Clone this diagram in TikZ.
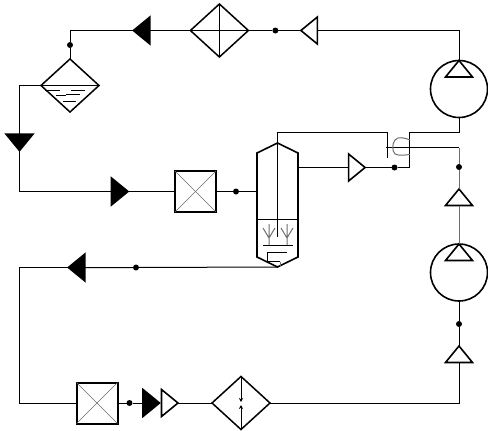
\documentclass[tikz,border=0pt]{standalone}
\usetikzlibrary{arrows.meta, positioning, shapes.geometric, calc}
\definecolor{PipeGray}{RGB}{110, 110, 110}
\tikzset{
  pipe/.style={line width=1pt, color=black},
  thin pipe/.style={line width=1pt, color=PipeGray},
  frame/.style={line width=1.6pt, color=black, line join=miter},
  tri/.style={isosceles triangle, isosceles triangle stretches, draw=black, fill=#1,
              line width=1.6pt, inner sep=0pt, outer sep=0pt,
              minimum width=27pt, minimum height=16.5pt},
  dot/.style={circle, fill=black, inner sep=0pt, outer sep=0pt, minimum size=6pt},
  pumpbox/.style={circle, draw=black, line width=1.6pt, inner sep=0pt, outer sep=0pt,
                  minimum size=57pt},
  xbox/.style={rectangle, draw=black, line width=2pt, inner sep=0pt, outer sep=0pt,
               minimum size=41pt},
  dia/.style={diamond, draw=black, line width=1.5pt, inner sep=0pt, outer sep=0pt,
              minimum width=58pt, minimum height=53pt},
}
\begin{document}
\begin{tikzpicture}[x=1pt, y=-1pt]
      \useasboundingbox (0,0) rectangle (488,431);

      % Top row
      \node[pumpbox] (pumpA) at (459,89) {};
      \node[tri=white, shape border rotate=90, anchor=north] (pumpAtri) at (pumpA.north) {};
      \node[tri=white, shape border rotate=180] (triB) at (311,30.5) {};
      \node[dot, left=22.5pt of triB] (dotA) {};
      \node[dia, left=24pt of dotA] (heater) {};
      \node[tri=black, shape border rotate=180, left=40.5pt of heater] (triC) {};
      \node[dia] (sep) at (70,85.5) {};
      \node[dot, above=11pt of sep] (dotB) {};
      \node[tri=black, shape border rotate=270] (triD) at (19.5,140.5) {};

      % Feed to column
      \node[xbox] (boxA) at (195.5,191.5) {};
      \node[tri=black, shape border rotate=0, left=47pt of boxA] (triE) {};
      \node[dot, right=17pt of boxA] (dotC) {};
      \node[minimum width=41pt, minimum height=104pt, inner sep=0pt, outer sep=0pt] (col) at (277.5,205) {};
      \coordinate[above=10pt of col] (colTop);
      \coordinate[below=10pt of col] (colBot);
      \node[tri=white, shape border rotate=0] (triF) at (355,167.5) {};
      \node[dot] (dotD) at (394.5,167.5) {};

      % Right side
      \node[dot] (dotE) at (459,167) {};
      \node[tri=white, shape border rotate=90, below=19pt of dotE] (triG) {};
      \node[pumpbox] (pumpB) at (459,272.5) {};
      \node[tri=white, shape border rotate=90, anchor=north] (pumpBtri) at (pumpB.north) {};
      \node[dot, below=20pt of pumpB] (dotF) {};
      \node[tri=white, shape border rotate=90, below=19pt of dotF] (triH) {};

      % Bottom row
      \node[dia] (cooler) at (241,403) {};
      \node[tri=white, shape border rotate=0, left=34pt of cooler] (triI) {};
      \node[tri=black, shape border rotate=0, left=2pt of triI] (triJ) {};
      \node[xbox] (boxB) at (97,403) {};
      \node[dot, right=9pt of boxB] (dotG) {};
      \node[dot] (dotH) at (136,267.5) {};
      \node[tri=black, shape border rotate=180] (triK) at (78.5,267.5) {};

      % Pipes
      \draw[pipe] (pumpAtri.apex) |- (triB.lower side);
      \draw[pipe] (triB.apex) -- (dotA) -- (heater.east);
      \draw[pipe] (heater.west) -- (triC.lower side);
      \draw[pipe] (triC.apex) -| (dotB.north);
      \draw[pipe] (dotB) -- (sep.north);
      \draw[pipe] (sep.west) -| (triD.lower side);
      \draw[pipe] (triD.apex) |- (triE.lower side);
      \draw[pipe] (triE.apex) -- (boxA.west);
      \draw[pipe] (boxA.east) -- (dotC) -- (dotC -| col.west);
      \draw[pipe] (triF.lower side -| col.east) -- (triF.lower side);
      \draw[pipe] (triF.apex) -- (dotD) -- (409,167.5) -- (409,132.5) -- (459,132.5) -- (pumpA.south);
      \draw[pipe] (387,158) -- (387,132.5) -- (colTop |- 0,132.5) -- (277.5,237);
      \draw[pipe] (386,147.5) -- (459,147.5);
      \draw[thin pipe] (459,147.5) -- (dotE) -- (triG.apex);
      \draw[thin pipe] (triG.lower side) -- (pumpBtri.apex);
      \draw[pipe] (pumpB.south) -- (dotF) -- (triH.apex);
      \draw[pipe] (triH.lower side) |- (cooler.east);
      \draw[pipe] (cooler.west) -- (triI.apex);
      \draw[pipe] (triJ.lower side) -- (dotG) -- (boxB.east);
      \draw[pipe] (boxB.west) -| (19.5,267.5) -- (triK.apex);
      \draw[pipe] (triK.lower side) -- (dotH) -- (colBot);

      % Column
      \draw[frame] (colTop) -- (col.north east) -- (col.south east) -- (colBot)
            -- (col.south west) -- (col.north west) -- cycle;
      \draw[pipe] (col.west |- 0,219) -- (col.east |- 0,219);
      \draw[pipe] (263,245.5) -- (293,245.5);
      \draw[thin pipe] (269,224) -- (269,245) (263,228) -- (269,238) -- (275,228);
      \draw[thin pipe] (287,224) -- (287,245) (281,228) -- (287,238) -- (293,228);
      \draw[pipe] (287,252.5) -- (267.5,252.5) -- (267.5,261.5) -- (280,261.5);
      \draw[thin pipe] (280,261.5) -- (280,266);

      % Bypass valve
      \draw[thin pipe] (410,140) .. controls (405,138) and (398,136) .. (395,140)
            .. controls (392,144) and (392,151) .. (395,154)
            .. controls (399,156) and (405,155) .. (410,154.5);

      % Box crosses
      \foreach \b in {boxA, boxB} {
        \draw[line width=0.5pt, color=PipeGray] (\b.north west) -- (\b.south east);
        \draw[line width=0.5pt, color=PipeGray] (\b.north east) -- (\b.south west);
      }

      % Diamond insides
      \draw[pipe] (heater.north) -- (heater.south);
      \draw[pipe] (heater.west) -- (heater.east);
      \draw[pipe] (sep.west) -- (sep.east);
      \draw[line width=0.8pt] (45,90.5) -- (60,90.5) (71,90.5) -- (85,90.5)
            (56,95) -- (66,95) (66,94) -- (80,94)
            (63,101) -- (76,101);
      \draw[pipe, -{Stealth[length=4pt, width=4pt]}] (cooler.north) -- (241,402);
      \draw[pipe, -{Stealth[length=4pt, width=4pt]}] (cooler.south) -- (241,405);
    \end{tikzpicture}
\end{document}
